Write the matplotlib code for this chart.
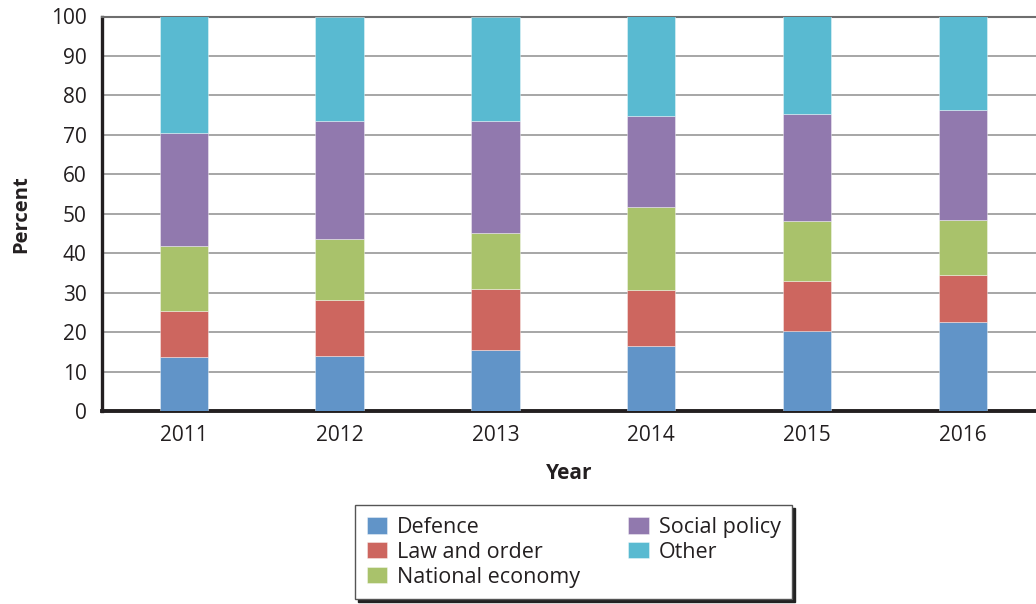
import matplotlib
matplotlib.use("Agg")
import matplotlib.pyplot as plt
import numpy as np

years = ["2011", "2012", "2013", "2014", "2015", "2016"]
series_names = ["Defence", "Law and order", "National economy", "Social policy", "Other"]
defence = [13.6, 13.9, 15.5, 16.4, 20.3, 22.6]
law_and_order = [11.8, 14.2, 15.4, 14.2, 12.7, 11.9]
national_economy = [16.3, 15.6, 14.3, 21.0, 15.1, 14.0]
social_policy = [28.8, 29.9, 28.4, 23.2, 27.2, 27.9]
other = [29.5, 26.4, 26.4, 25.2, 24.7, 23.6]
colors = ["#6194c8", "#cd665f", "#a9c26b", "#9179ae", "#59bad1"]
yticks = [0, 10, 20, 30, 40, 50, 60, 70, 80, 90, 100]

plt.rcParams['font.family'] = ['Open Sans', 'DejaVu Sans']
text_color = "#231f20"

fig = plt.figure(figsize=(10.36, 6.04), dpi=100)
ax = fig.add_axes([102/1036, 1 - 411/604, 1 - 102/1036, (411 - 16.5)/604])

x = np.arange(len(years))
bottom = np.zeros(len(years))
data = [defence, law_and_order, national_economy, social_policy, other]
for name, vals, c in zip(series_names, data, colors):
    ax.bar(x, vals, width=0.31, bottom=bottom, color=c, label=name,
           edgecolor=(1, 1, 1, 0.45), linewidth=0.6, zorder=3)
    bottom += np.array(vals)

ax.set_xlim(-0.525, 5.47)
ax.set_ylim(0, 100)
ax.set_yticks(yticks)
ax.set_xticks(x)
ax.set_xticklabels(years)
ax.yaxis.grid(True, color="#a6a6a6", linewidth=1.4, zorder=0)
ax.set_axisbelow(True)
ax.tick_params(axis='both', length=0, labelsize=15, colors=text_color)
ax.tick_params(axis='y', pad=11)
ax.tick_params(axis='x', pad=10)

ax.spines["right"].set_visible(False)
ax.spines["top"].set_color("#6e6e6e")
ax.spines["top"].set_linewidth(1.5)
ax.spines["left"].set_color(text_color)
ax.spines["left"].set_linewidth(2.4)
ax.spines["bottom"].set_color(text_color)
ax.spines["bottom"].set_linewidth(2.8)

ax.set_ylabel("Percent", fontsize=14.5, fontweight="bold", color=text_color, labelpad=14)
ax.set_xlabel("Year", fontsize=15, fontweight="bold", color=text_color, labelpad=12)

handles, labels = ax.get_legend_handles_labels()
leg = fig.legend(handles, labels, loc="upper left",
                 bbox_to_anchor=(355/1036, 1 - 505/604), borderaxespad=0,
                 ncol=2, fontsize=15.5, frameon=True, fancybox=False,
                 handlelength=0.95, handleheight=0.8, handletextpad=0.45,
                 columnspacing=2.25, labelspacing=0.18, borderpad=0.55,
                 shadow={'color': '#222222', 'alpha': 1.0})
leg.get_frame().set_edgecolor("#555555")
leg.get_frame().set_linewidth(1.0)
for t in leg.get_texts():
    t.set_color(text_color)

fig.savefig("out.png", dpi=100)
